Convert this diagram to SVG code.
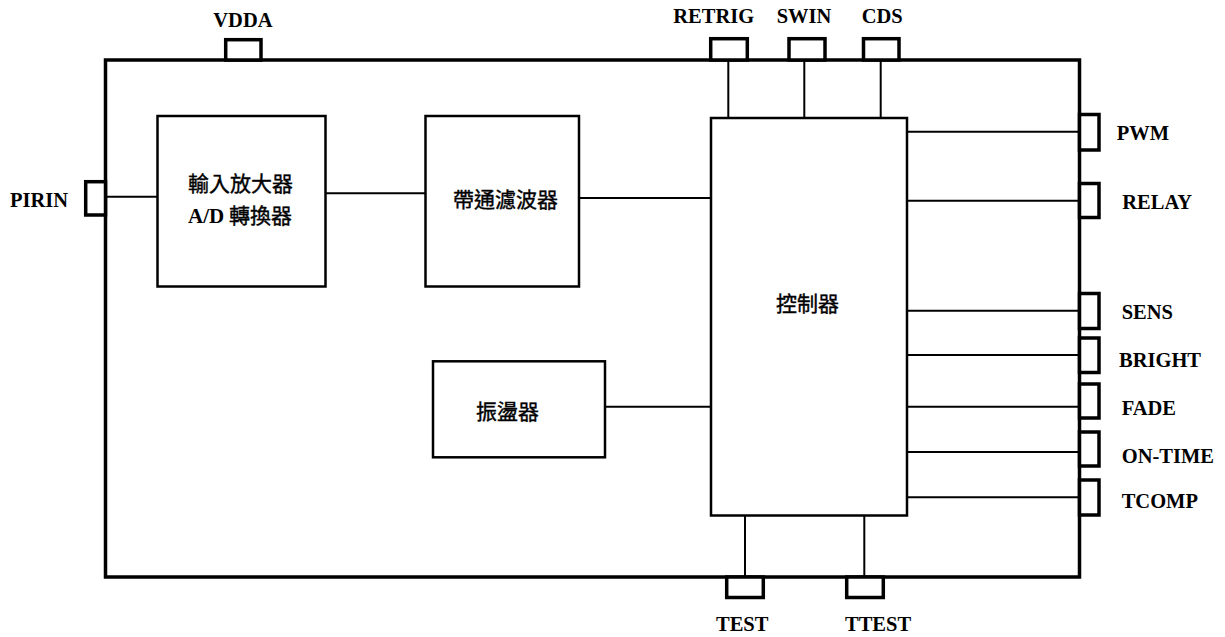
<svg xmlns="http://www.w3.org/2000/svg" width="1225" height="637" viewBox="0 0 1225 637">
<style>
.outer{fill:none;stroke:#000;stroke-width:3.5}
.pin{fill:#fff;stroke:#000;stroke-width:3.5}
.box{fill:#fff;stroke:#000;stroke-width:2.5}
.wire{fill:none;stroke:#000;stroke-width:2}
.lbl{font-family:"Liberation Serif","Times New Roman",serif;font-weight:bold;font-size:20.5px;fill:#000}
.cjk{font-family:"Noto Sans CJK TC","Noto Sans CJK SC",sans-serif;font-size:21px;fill:#000;stroke:#000;stroke-width:0.4}
.ser{font-family:"Liberation Serif","Times New Roman",serif;font-weight:bold;stroke-width:0}
</style>
<rect width="1225" height="637" fill="#fff"/>
<g id="chip">
<rect class="outer" x="105.5" y="60" width="974" height="517"/>
</g>
<g id="connectors">
<line class="wire" x1="105.5" y1="196.7" x2="157.5" y2="196.7"/>
<line class="wire" x1="326" y1="193.3" x2="425" y2="193.3"/>
<line class="wire" x1="579" y1="198" x2="711" y2="198"/>
<line class="wire" x1="605" y1="406.7" x2="711" y2="406.7"/>
<line class="wire" x1="728.3" y1="60" x2="728.3" y2="118"/>
<line class="wire" x1="804.3" y1="60" x2="804.3" y2="118"/>
<line class="wire" x1="880.7" y1="60" x2="880.7" y2="118"/>
<line class="wire" x1="745" y1="515.5" x2="745" y2="577"/>
<line class="wire" x1="864.3" y1="515.5" x2="864.3" y2="577"/>
<line class="wire" x1="907" y1="131.7" x2="1079.5" y2="131.7"/>
<line class="wire" x1="907" y1="200.7" x2="1079.5" y2="200.7"/>
<line class="wire" x1="907" y1="310.7" x2="1079.5" y2="310.7"/>
<line class="wire" x1="907" y1="355" x2="1079.5" y2="355"/>
<line class="wire" x1="907" y1="406.7" x2="1079.5" y2="406.7"/>
<line class="wire" x1="907" y1="452" x2="1079.5" y2="452"/>
<line class="wire" x1="907" y1="497.3" x2="1079.5" y2="497.3"/>
</g>
<g id="amp">
<rect class="box" x="157.5" y="116" width="168" height="170.5"/>
<text class="cjk" x="188" y="190.5">輸入放大器</text>
<text class="cjk" x="188" y="223"><tspan class="ser">A/D</tspan> 轉換器</text>
</g>
<g id="bpf">
<rect class="box" x="425.5" y="116" width="153.5" height="170.5"/>
<text class="cjk" x="453" y="207">帶通濾波器</text>
</g>
<g id="osc">
<rect class="box" x="433" y="361.3" width="172" height="96"/>
<text class="cjk" x="476" y="418.5">振盪器</text>
</g>
<g id="ctrl">
<rect class="box" x="711" y="118" width="196" height="397.5"/>
<text class="cjk" x="776" y="310.5">控制器</text>
</g>
<g id="pin-vdda"><rect class="pin" x="225.7" y="39.7" width="35.3" height="20.3"/><text class="lbl" x="213.3" y="27.3">VDDA</text></g>
<g id="pin-retrig"><rect class="pin" x="710.7" y="38.7" width="36.6" height="21.3"/><text class="lbl" x="673.3" y="23.3">RETRIG</text></g>
<g id="pin-swin"><rect class="pin" x="789" y="38.7" width="36" height="21.3"/><text class="lbl" x="776.7" y="23.3">SWIN</text></g>
<g id="pin-cds"><rect class="pin" x="863.5" y="38.7" width="35.5" height="21.3"/><text class="lbl" x="861.7" y="23.3">CDS</text></g>
<g id="pin-pirin"><rect class="pin" x="85.7" y="181.7" width="19.8" height="33.3"/><text class="lbl" x="10" y="206.7">PIRIN</text></g>
<g id="pin-pwm"><rect class="pin" x="1079.5" y="114.5" width="19.5" height="35.5"/><text class="lbl" x="1116.7" y="140">PWM</text></g>
<g id="pin-relay"><rect class="pin" x="1079.5" y="183.5" width="19.5" height="34"/><text class="lbl" x="1122.3" y="209">RELAY</text></g>
<g id="pin-sens"><rect class="pin" x="1079.5" y="293.5" width="19.5" height="35"/><text class="lbl" x="1121.7" y="319">SENS</text></g>
<g id="pin-bright"><rect class="pin" x="1079.5" y="338" width="19.5" height="34.5"/><text class="lbl" x="1119" y="366.7">BRIGHT</text></g>
<g id="pin-fade"><rect class="pin" x="1079.5" y="384" width="19.5" height="34"/><text class="lbl" x="1121.7" y="415">FADE</text></g>
<g id="pin-ontime"><rect class="pin" x="1079.5" y="432" width="19.5" height="34"/><text class="lbl" x="1121.7" y="462.7">ON-TIME</text></g>
<g id="pin-tcomp"><rect class="pin" x="1079.5" y="480" width="19.5" height="35"/><text class="lbl" x="1121.7" y="508">TCOMP</text></g>
<g id="pin-test"><rect class="pin" x="726.7" y="577" width="36.6" height="20.5"/><text class="lbl" x="716" y="630.7">TEST</text></g>
<g id="pin-ttest"><rect class="pin" x="846.7" y="577" width="36.6" height="20.5"/><text class="lbl" x="845" y="630.7">TTEST</text></g>
</svg>
